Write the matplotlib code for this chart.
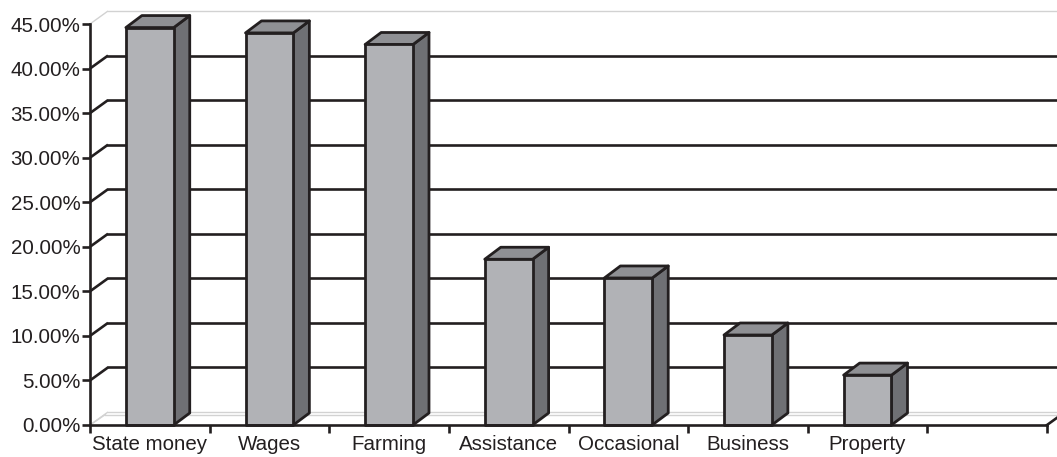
import numpy as np
import matplotlib.pyplot as plt
from matplotlib.patches import Polygon, Rectangle
from matplotlib.ticker import FixedLocator, PercentFormatter

# Income sources (last slot is left empty, as in the original sheet)
categories = ["State money", "Wages", "Farming", "Assistance", "Occasional",
              "Business", "Property", ""]
shares = [44.6, 44.0, 42.7, 18.6, 16.5, 10.1, 5.6]
y_ticks = [0, 5, 10, 15, 20, 25, 30, 35, 40, 45]

INK = "#231f20"
FACE = "#b1b2b6"
SIDE = "#6f7074"
TOP = "#8f9094"
PALE = "#d2d2d2"

plt.rcParams["font.family"] = ["Liberation Sans", "DejaVu Sans"]

W, H, DPI = 1057, 457, 100
fig = plt.figure(figsize=(W / DPI, H / DPI), dpi=DPI)
ax = fig.add_axes([90 / W, 32 / H, 957 / W, 401 / H])

n = len(categories)
ax.set_xlim(-0.5, n - 0.5)
ax.set_ylim(0, 45)

# pixel -> data conversion for the oblique depth offsets
px_x = 957 / n
px_y = 401 / 45.0
wall_dx, wall_dy = 18 / px_x, 13 / px_y
bar_dx, bar_dy = 16 / px_x, 12 / px_y
x0 = -0.5
x_end = n - 0.5

# back wall gridlines + the slanted joins to the value axis
for v in y_ticks:
    pale = v in (0, 45)
    col = PALE if pale else INK
    lw = 1.0 if pale else 1.9
    ax.plot([x0, x0 + wall_dx], [v, v + wall_dy], color=col, lw=lw,
            clip_on=False, zorder=1, solid_capstyle="butt")
    ax.plot([x0 + wall_dx, x_end + wall_dx + 1], [v + wall_dy, v + wall_dy],
            color=col, lw=lw, clip_on=False, zorder=1)

# second floor edge (floor slab thickness)
ax.plot([x0, x0 + wall_dx * 0.85], [0, wall_dy * 0.8], color=PALE, lw=1.0,
        clip_on=False, zorder=1)
ax.plot([x0 + wall_dx * 0.85, x_end + wall_dx + 1], [wall_dy * 0.8, wall_dy * 0.8],
        color=PALE, lw=1.0, clip_on=False, zorder=1)

# slanted floor edge at the far right end of the category axis
ax.plot([x_end, x_end + wall_dx], [0, wall_dy], color=INK, lw=1.9,
        clip_on=False, zorder=2)

# 3-D looking columns
half = 0.2
for i, v in enumerate(shares):
    l, r = i - half, i + half
    ax.add_patch(Polygon([(r, 0), (r + bar_dx, bar_dy), (r + bar_dx, v + bar_dy), (r, v)],
                         closed=True, facecolor=SIDE, edgecolor=INK, lw=2.0,
                         joinstyle="round", clip_on=False, zorder=3))
    ax.add_patch(Polygon([(l, v), (r, v), (r + bar_dx, v + bar_dy), (l + bar_dx, v + bar_dy)],
                         closed=True, facecolor=TOP, edgecolor=INK, lw=2.0,
                         joinstyle="round", clip_on=False, zorder=3))
    ax.add_patch(Rectangle((l, 0), r - l, v, facecolor=FACE, edgecolor=INK,
                           lw=2.0, joinstyle="round", clip_on=False, zorder=4))

# axes
for s in ("top", "right"):
    ax.spines[s].set_visible(False)
for s in ("left", "bottom"):
    ax.spines[s].set_color(INK)
    ax.spines[s].set_linewidth(1.9)
    ax.spines[s].set_zorder(5)

ax.yaxis.set_major_locator(FixedLocator(y_ticks))
ax.yaxis.set_major_formatter(PercentFormatter(decimals=2))
ax.tick_params(axis="y", length=6, width=1.9, color=INK, pad=1.0,
               labelsize=14.8, labelcolor=INK)

ax.set_xticks(np.arange(n))
ax.set_xticklabels(categories)
ax.set_xticks(np.arange(n + 1) - 0.5, minor=True)
ax.tick_params(axis="x", which="major", length=0, pad=7,
               labelsize=14.8, labelcolor=INK)
ax.tick_params(axis="x", which="minor", length=6, width=1.9, color=INK)

fig.savefig("out.png", dpi=DPI)
